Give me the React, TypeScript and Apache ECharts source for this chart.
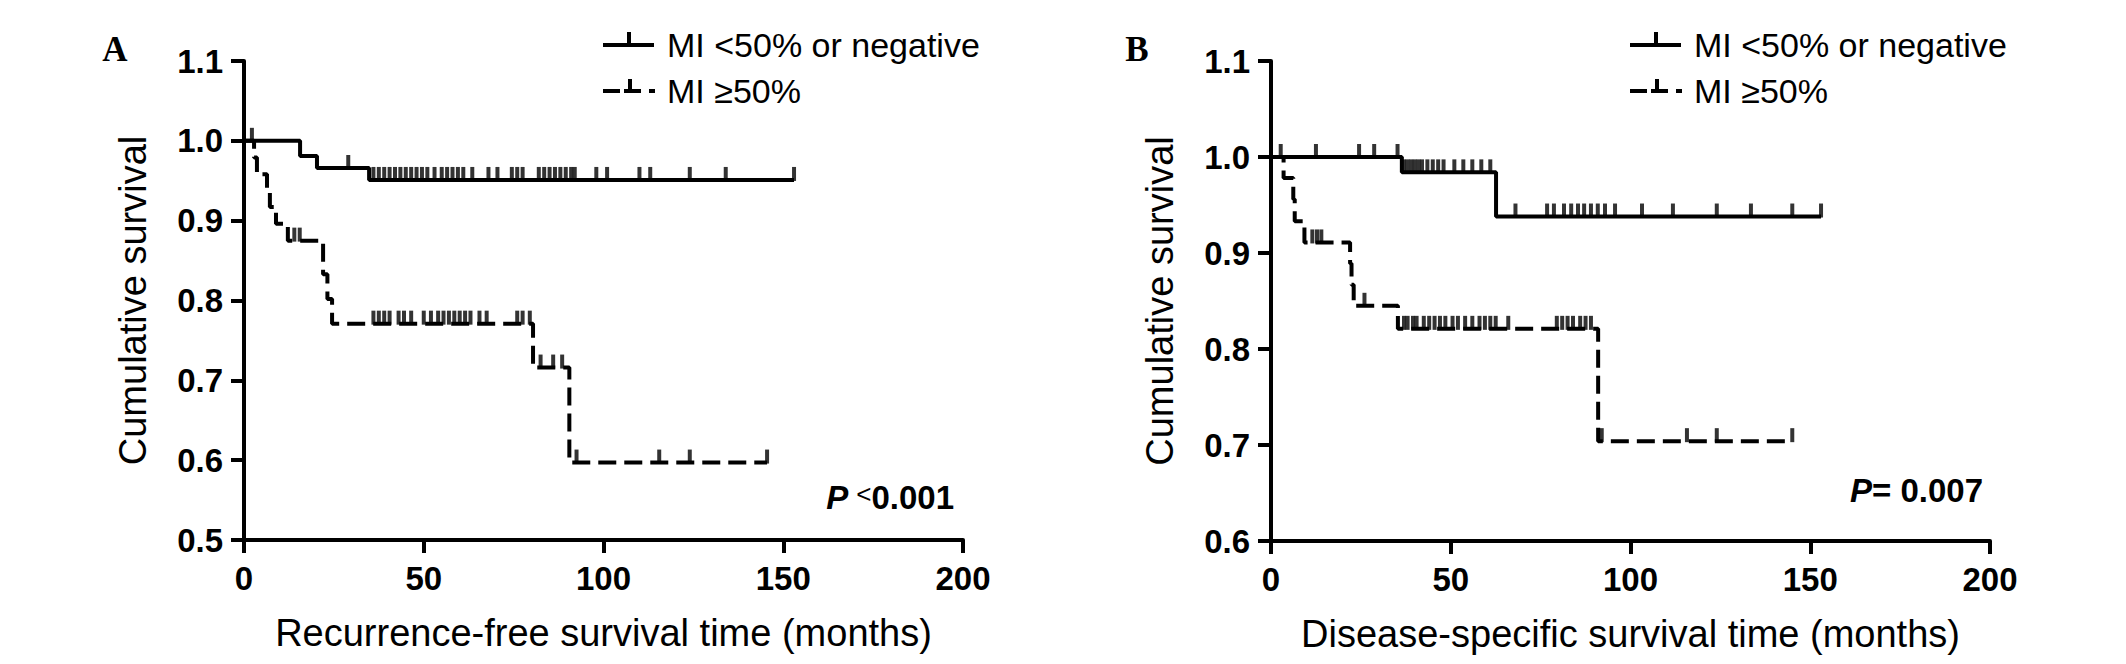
import React, { useEffect, useRef } from "react";
import * as echarts from "echarts";

// ---------- data ----------
const groupNames = ["MI <50% or negative", "MI ≥50%"];
const xTicks = [0, 50, 100, 150, 200];
const yTicksA = [0.5, 0.6, 0.7, 0.8, 0.9, 1.0, 1.1];
const yTicksB = [0.6, 0.7, 0.8, 0.9, 1.0, 1.1];

// Panel A: recurrence-free survival
const aLowTimes = [15.6, 20.3, 34.8];
const aLowSurv = [0.981, 0.966, 0.951];
const aLowCensor = [29, 36, 37.5, 39, 40.5, 42, 43.5, 45, 46.5, 48, 49.5, 51, 53, 55, 56.5, 58, 59.5, 61, 63.5, 68, 70.5, 74.5, 76, 77.5, 82, 83.5, 85, 86.5, 88, 89.5, 91, 92, 98, 101, 110, 113, 124, 134, 153];
const aLowEnd = 153;

const aHighTimes = [2.8, 3.6, 6.4, 7.2, 8.9, 12.2, 22, 23.2, 24.5, 80.4, 90.5];
const aHighSurv = [0.979, 0.958, 0.9375, 0.917, 0.896, 0.875, 0.833, 0.802, 0.771, 0.716, 0.597];
const aHighCensor = [2.2, 14, 15.5, 36, 37.5, 39, 40.5, 43, 44.5, 46.5, 50, 52, 54, 55.5, 57, 58.5, 60, 61.5, 63, 65.5, 67.5, 76, 77.5, 79.5, 82.5, 86, 88.5, 92.5, 115.5, 124, 145.5];
const aHighEnd = 145.5;

// Panel B: disease-specific survival
const bLowTimes = [36.4, 62.6];
const bLowSurv = [0.984, 0.938];
const bLowCensor = [2.7, 12.5, 24.5, 28.7, 35.2, 37, 38, 39, 40, 41, 42, 43.5, 45, 46.5, 48, 51, 53.5, 56, 58.5, 61, 68, 76.8, 78.7, 81.5, 83.5, 85.4, 87.1, 89, 90.9, 92.9, 95.7, 103.2, 111.8, 124, 133.5, 145, 153];
const bLowEnd = 153;

const bHighTimes = [3.5, 6.2, 6.6, 9.3, 22, 22.4, 23, 35.3, 91];
const bHighSurv = [0.978, 0.956, 0.933, 0.911, 0.889, 0.867, 0.845, 0.821, 0.704];
const bHighCensor = [11.5, 12.8, 14, 26, 37, 38, 39.5, 40.5, 42.5, 44, 45.5, 47, 48.5, 50.5, 52, 54, 56, 58, 59.5, 61, 62.5, 66, 79.5, 81, 82.5, 84, 86, 87.5, 89, 92, 115.7, 124, 145];
const bHighEnd = 145;

const panelTitles = ["Recurrence-free survival time (months)", "Disease-specific survival time (months)"];
const yTitle = "Cumulative survival";

// ---------- helpers ----------
const FONT = '"Liberation Sans", Arial, Helvetica, sans-serif';
const DASH = [18, 8];

function stepData(times: number[], surv: number[], end: number) {
  const d: number[][] = [[0, 1]];
  times.forEach((t, i) => d.push([t, surv[i]]));
  d.push([end, surv[surv.length - 1]]);
  return d;
}
function levelAt(times: number[], surv: number[], t: number) {
  let s = 1;
  for (let i = 0; i < times.length; i++) if (times[i] <= t) s = surv[i];
  return s;
}
function censorData(times: number[], surv: number[], cens: number[]) {
  return cens.map((t) => [t, levelAt(times, surv, t)]);
}

function lineSeries(name: string, idx: number, data: number[][], dashed: boolean) {
  return {
    type: "line",
    name,
    xAxisIndex: idx,
    yAxisIndex: idx,
    data,
    step: "end",
    symbol: "none",
    showSymbol: false,
    lineStyle: { color: "#000", width: 4, type: dashed ? DASH : "solid" },
    itemStyle: { color: "#000" },
    z: 3,
  };
}
function censorSeries(name: string, idx: number, data: number[][]) {
  return {
    type: "scatter",
    name,
    xAxisIndex: idx,
    yAxisIndex: idx,
    data,
    symbol: "rect",
    symbolSize: [4, 14],
    symbolOffset: [0, -6],
    itemStyle: { color: "#000" },
    clip: false,
    z: 4,
  };
}

function xAxis(gridIndex: number, name: string) {
  return {
    type: "value",
    gridIndex,
    min: xTicks[0],
    max: xTicks[xTicks.length - 1],
    interval: xTicks[1] - xTicks[0],
    name,
    nameLocation: "middle",
    nameGap: 74,
    nameTextStyle: { fontSize: 38, fontFamily: FONT, color: "#000" },
    axisLine: { onZero: false, lineStyle: { color: "#000", width: 4 } },
    axisTick: { length: 13, lineStyle: { color: "#000", width: 4 } },
    axisLabel: { fontSize: 33, fontWeight: "bold", fontFamily: FONT, color: "#000", margin: 22 },
    splitLine: { show: false },
  };
}
function yAxis(gridIndex: number, ticks: number[]) {
  return {
    type: "value",
    gridIndex,
    min: ticks[0],
    max: ticks[ticks.length - 1],
    interval: 0.1,
    name: yTitle,
    nameLocation: "middle",
    nameRotate: 90,
    nameGap: 92,
    nameTextStyle: { fontSize: 38, fontFamily: FONT, color: "#000" },
    axisLine: { onZero: false, lineStyle: { color: "#000", width: 4 } },
    axisTick: { length: 13, lineStyle: { color: "#000", width: 4 } },
    axisLabel: {
      fontSize: 33,
      fontWeight: "bold",
      fontFamily: FONT,
      color: "#000",
      margin: 21,
      formatter: (v: number) => v.toFixed(1),
    },
    splitLine: { show: false },
  };
}

function legendGraphics(x0: number) {
  const st = { stroke: "#000", lineWidth: 4 };
  const L = (x1: number, y1: number, x2: number, y2: number) => ({
    type: "line",
    shape: { x1, y1, x2, y2 },
    style: st,
  });
  return [
    L(x0, 45, x0 + 51, 45),
    L(x0 + 26, 32, x0 + 26, 45),
    L(x0, 91, x0 + 17, 91),
    L(x0 + 21, 91, x0 + 38, 91),
    L(x0 + 27, 79, x0 + 27, 91),
    L(x0 + 46, 91, x0 + 52, 91),
    {
      type: "text",
      x: x0 + 64,
      y: 45,
      style: { text: groupNames[0], font: `34px ${FONT}`, fill: "#000", align: "left", verticalAlign: "middle" },
    },
    {
      type: "text",
      x: x0 + 64,
      y: 91,
      style: { text: groupNames[1], font: `34px ${FONT}`, fill: "#000", align: "left", verticalAlign: "middle" },
    },
  ];
}

export default function App() {
  const ref = useRef<HTMLDivElement>(null);
  useEffect(() => {
    if (!ref.current) return;
    const chart = echarts.init(ref.current, null, { renderer: "svg" });
    const option: any = {
      animation: false,
      backgroundColor: "#fff",
      grid: [
        { left: 244, top: 61, width: 719, height: 479 },
        { left: 1271, top: 61, width: 719, height: 480 },
      ],
      xAxis: [xAxis(0, panelTitles[0]), xAxis(1, panelTitles[1])],
      yAxis: [yAxis(0, yTicksA), yAxis(1, yTicksB)],
      series: [
        lineSeries(groupNames[0], 0, stepData(aLowTimes, aLowSurv, aLowEnd), false),
        censorSeries(groupNames[0], 0, censorData(aLowTimes, aLowSurv, aLowCensor)),
        lineSeries(groupNames[1], 0, stepData(aHighTimes, aHighSurv, aHighEnd), true),
        censorSeries(groupNames[1], 0, censorData(aHighTimes, aHighSurv, aHighCensor)),
        lineSeries(groupNames[0], 1, stepData(bLowTimes, bLowSurv, bLowEnd), false),
        censorSeries(groupNames[0], 1, censorData(bLowTimes, bLowSurv, bLowCensor)),
        lineSeries(groupNames[1], 1, stepData(bHighTimes, bHighSurv, bHighEnd), true),
        censorSeries(groupNames[1], 1, censorData(bHighTimes, bHighSurv, bHighCensor)),
      ],
      graphic: [
        {
          type: "text",
          x: 115,
          y: 49,
          style: { text: "A", font: `bold 35px "Liberation Serif", "Times New Roman", serif`, fill: "#000", align: "center", verticalAlign: "middle" },
        },
        {
          type: "text",
          x: 1137,
          y: 49,
          style: { text: "B", font: `bold 35px "Liberation Serif", "Times New Roman", serif`, fill: "#000", align: "center", verticalAlign: "middle" },
        },
        ...legendGraphics(603),
        ...legendGraphics(1630),
        {
          type: "text",
          x: 954,
          y: 497,
          style: {
            text: "{p|P }{lt|<}{v|0.001}",
            align: "right",
            verticalAlign: "middle",
            fill: "#000",
            rich: {
              p: { fontSize: 33, fontWeight: "bold", fontStyle: "italic", fontFamily: FONT, fill: "#000" },
              lt: { fontSize: 26, fontFamily: FONT, fill: "#000", verticalAlign: "top" },
              v: { fontSize: 33, fontWeight: "bold", fontFamily: FONT, fill: "#000" },
            },
          },
        },
        {
          type: "text",
          x: 1983,
          y: 490,
          style: {
            text: "{p|P}{v|= 0.007}",
            align: "right",
            verticalAlign: "middle",
            fill: "#000",
            rich: {
              p: { fontSize: 33, fontWeight: "bold", fontStyle: "italic", fontFamily: FONT, fill: "#000" },
              v: { fontSize: 33, fontWeight: "bold", fontFamily: FONT, fill: "#000" },
            },
          },
        },
      ],
    };
    chart.setOption(option);
    return () => chart.dispose();
  }, []);
  return (
    <div
      ref={ref}
      style={{ position: "fixed", left: 0, top: 0, width: 2126, height: 664, background: "#fff" }}
    />
  );
}
